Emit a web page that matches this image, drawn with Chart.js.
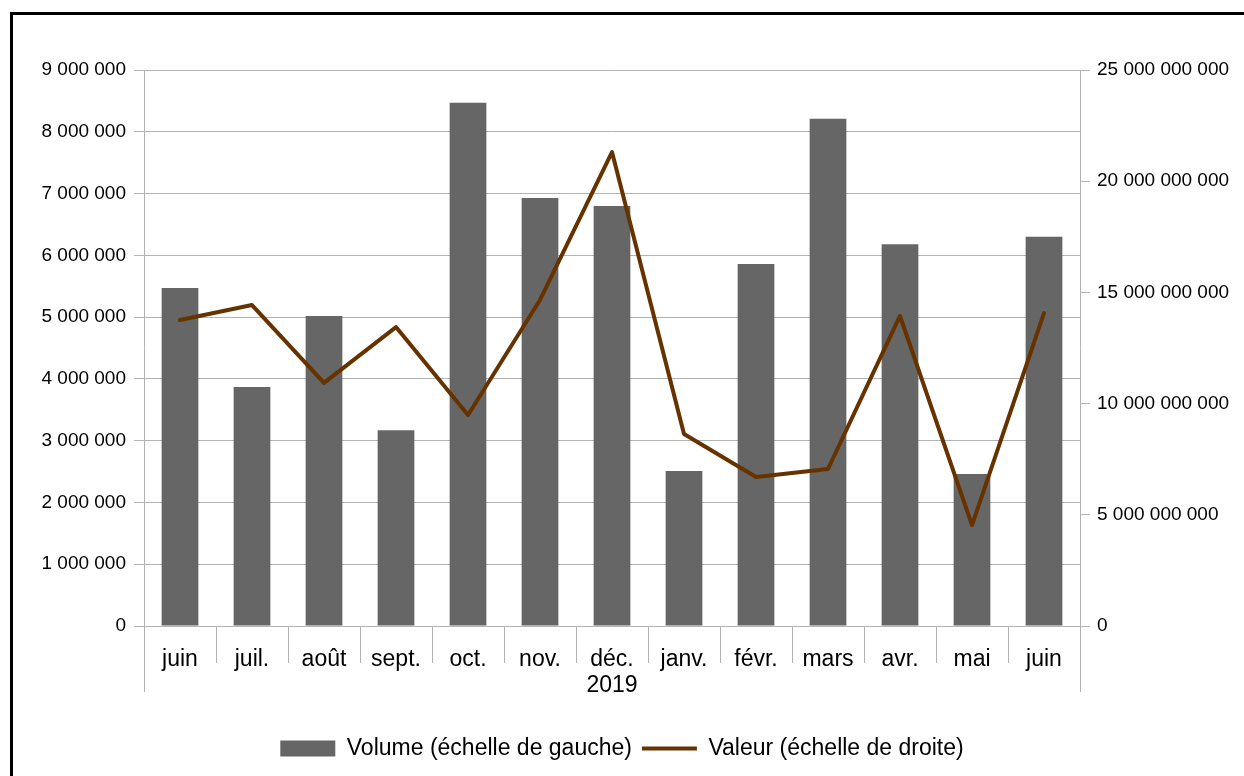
<!DOCTYPE html>
<html>
<head>
<meta charset="utf-8">
<script src="https://cdn.jsdelivr.net/npm/chart.js@4/dist/chart.umd.min.js"></script>
<style>
  html, body { margin: 0; padding: 0; background: #fff; overflow: hidden; }
  canvas { display: block; }
</style>
</head>
<body>
<canvas id="chart" width="1244" height="776"></canvas>
<script>
// --- données ---
const mois = ['juin', 'juil.', 'août', 'sept.', 'oct.', 'nov.', 'déc.', 'janv.', 'févr.', 'mars', 'avr.', 'mai', 'juin'];
const annee = '2019';
const anneeIndex = 6;
const volume = [5470000, 3870000, 5020000, 3170000, 8470000, 6930000, 6800000, 2510000, 5860000, 8210000, 6180000, 2460000, 6300000];
const valeur = [13760000000, 14430000000, 10930000000, 13440000000, 9490000000, 14660000000, 21310000000, 8630000000, 6700000000, 7060000000, 13940000000, 4540000000, 14070000000];

const labels = mois.map((m, i) => i === anneeIndex ? [m, annee] : m);

const gris = '#b3b3b3';
const font = 'Liberation Sans, Arial, sans-serif';

function espaces(v) {
    return String(Math.round(v)).replace(/\B(?=(\d{3})+(?!\d))/g, ' ');
}

// cadre noir + prolongement des axes sous la zone du graphique
const decor = {
    id: 'decor',
    beforeDraw(chart) {
        const ctx = chart.ctx;
        ctx.save();
        ctx.strokeStyle = '#000';
        ctx.lineWidth = 3;
        ctx.strokeRect(11.5, 13.5, 2000, 2000);
        ctx.restore();
    },
    afterDraw(chart) {
        const ctx = chart.ctx;
        const a = chart.chartArea;
        ctx.save();
        ctx.strokeStyle = gris;
        ctx.lineWidth = 1;
        ctx.beginPath();
        [a.left, a.right].forEach(x => {
            ctx.moveTo(Math.round(x) + 0.5, a.bottom);
            ctx.lineTo(Math.round(x) + 0.5, a.bottom + 66);
        });
        ctx.stroke();
        ctx.restore();
    }
};

const ctx = document.getElementById('chart').getContext('2d');
new Chart(ctx, {
    type: 'bar',
    data: {
        labels: labels,
        datasets: [{
            label: 'Volume (échelle de gauche)',
            data: volume,
            backgroundColor: '#666666',
            borderWidth: 0,
            yAxisID: 'y',
            categoryPercentage: 1,
            barPercentage: 0.51,
            order: 2,
            pointStyle: 'rect'
        }, {
            type: 'line',
            label: 'Valeur (échelle de droite)',
            data: valeur,
            borderColor: '#663300',
            backgroundColor: '#663300',
            borderWidth: 4,
            borderJoinStyle: 'round',
            borderCapStyle: 'round',
            pointRadius: 0,
            tension: 0,
            yAxisID: 'y1',
            order: 1,
            pointStyle: 'line'
        }]
    },
    options: {
        responsive: false,
        animation: false,
        layout: { padding: { top: 70, bottom: 6, left: 0, right: 0 } },
        plugins: {
            tooltip: { enabled: false },
            legend: {
                position: 'bottom',
                labels: {
                    usePointStyle: true,
                    pointStyleWidth: 55,
                    boxHeight: 16,
                    padding: 10,
                    color: '#000',
                    font: { family: font, size: 23 },
                    sort: (a, b) => a.datasetIndex - b.datasetIndex
                }
            }
        },
        scales: {
            x: {
                offset: true,
                grid: {
                    offset: true,
                    drawOnChartArea: false,
                    color: gris,
                    tickLength: 37
                },
                border: { display: false },
                ticks: {
                    color: '#000',
                    font: { family: font, size: 23, lineHeight: 1.15 },
                    padding: -17,
                    maxRotation: 0,
                    autoSkip: false
                },
                afterFit: s => { s.height = 101; }
            },
            y: {
                position: 'left',
                min: 0,
                max: 9000000,
                ticks: {
                    stepSize: 1000000,
                    color: '#000',
                    font: { family: font, size: 19 },
                    padding: 8,
                    callback: v => espaces(v)
                },
                grid: { color: gris, tickLength: 10 },
                border: { color: gris },
                afterFit: s => { s.width = 144; }
            },
            y1: {
                position: 'right',
                min: 0,
                max: 25000000000,
                ticks: {
                    stepSize: 5000000000,
                    color: '#000',
                    font: { family: font, size: 19 },
                    padding: 7,
                    callback: v => espaces(v)
                },
                grid: { drawOnChartArea: false, color: gris, tickLength: 10 },
                border: { color: gris },
                afterFit: s => { s.width = 164; }
            }
        }
    },
    plugins: [decor]
});
</script>
</body>
</html>
